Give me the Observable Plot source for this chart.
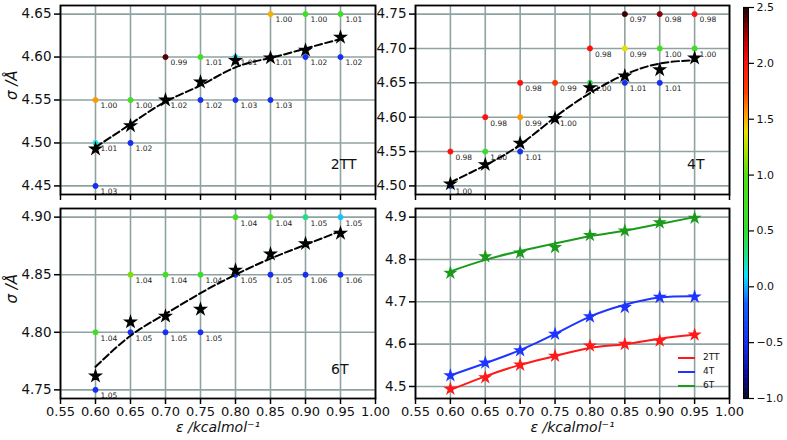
<!DOCTYPE html>
<html>
<head>
<meta charset="utf-8">
<script src="https://cdn.jsdelivr.net/npm/d3@7"></script>
<script src="https://cdn.jsdelivr.net/npm/@observablehq/plot@0.6"></script>
<style>
  html, body { margin: 0; padding: 0; background: #fff; }
  #chart { position: relative; width: 787px; height: 440px; overflow: hidden; font-family: "DejaVu Sans", sans-serif; }
  #chart svg { position: absolute; left: 0; top: 0; }
  .leg { position: absolute; font-family: "DejaVu Sans", sans-serif; font-size: 9px; color: #111; }
</style>
</head>
<body>
<div id="chart"></div>
<script>
// ---------- data ----------
const xTicks = [0.55, 0.60, 0.65, 0.70, 0.75, 0.80, 0.85, 0.90, 0.95, 1.00];
const epsVals = [0.60, 0.65, 0.70, 0.75, 0.80, 0.85, 0.90, 0.95];

// 2TT panel
const tt2PtEps = [0.60, 0.60, 0.60, 0.65, 0.65, 0.70, 0.70, 0.75, 0.75, 0.80, 0.80, 0.85, 0.85, 0.85, 0.90, 0.90, 0.95, 0.95];
const tt2PtSig = [4.45, 4.50, 4.55, 4.50, 4.55, 4.55, 4.60, 4.55, 4.60, 4.55, 4.60, 4.55, 4.60, 4.65, 4.60, 4.65, 4.60, 4.65];
const tt2PtVal = [-0.5, 0.15, 1.55, -0.5, 0.7, -0.5, 2.4, -0.5, 0.7, -0.5, 0.1, -0.5, -0.3, 1.5, -0.5, 0.7, -0.5, 0.7];
const tt2PtLbl = ["1.03", "1.01", "1.00", "1.02", "1.00", "1.02", "0.99", "1.02", "1.01", "1.03", "1.01", "1.03", "1.01", "1.00", "1.02", "1.00", "1.02", "1.01"];
const tt2Star = [4.493, 4.520, 4.550, 4.571, 4.596, 4.599, 4.608, 4.623];
const tt2Fit  = [4.495, 4.522, 4.548, 4.567, 4.588, 4.599, 4.610, 4.621];
const tt2YTicks = [4.45, 4.50, 4.55, 4.60, 4.65];

// 4T panel
const t4PtEps = [0.60, 0.60, 0.65, 0.65, 0.70, 0.70, 0.70, 0.75, 0.75, 0.80, 0.80, 0.85, 0.85, 0.85, 0.90, 0.90, 0.90, 0.95, 0.95];
const t4PtSig = [4.50, 4.55, 4.55, 4.60, 4.55, 4.60, 4.65, 4.60, 4.65, 4.65, 4.70, 4.65, 4.70, 4.75, 4.65, 4.70, 4.75, 4.70, 4.75];
const t4PtVal = [-0.4, 2.0, 0.6, 2.0, -0.5, 1.55, 2.0, 0.1, 1.8, 0.4, 2.0, -0.5, 1.4, 2.45, -0.5, 0.7, 2.3, 0.7, 2.0];
const t4PtLbl = ["1.00", "0.98", "1.00", "0.98", "1.01", "0.99", "0.98", "1.00", "0.99", "1.00", "0.98", "1.01", "0.99", "0.97", "1.01", "1.00", "0.98", "1.00", "0.98"];
const t4Star = [4.503, 4.531, 4.562, 4.598, 4.643, 4.660, 4.669, 4.686];
const t4Fit  = [4.505, 4.530, 4.560, 4.600, 4.635, 4.662, 4.678, 4.683];
const t4YTicks = [4.50, 4.55, 4.60, 4.65, 4.70, 4.75];

// 6T panel
const t6PtEps = [0.60, 0.60, 0.65, 0.65, 0.70, 0.70, 0.75, 0.75, 0.80, 0.80, 0.85, 0.85, 0.90, 0.90, 0.95, 0.95];
const t6PtSig = [4.75, 4.80, 4.80, 4.85, 4.80, 4.85, 4.80, 4.85, 4.85, 4.90, 4.85, 4.90, 4.85, 4.90, 4.85, 4.90];
const t6PtVal = [-0.5, 0.7, -0.5, 1.1, -0.5, 0.7, -0.5, 0.6, -0.4, 0.8, -0.5, 0.8, -0.5, 0.3, -0.5, 0.05];
const t6PtLbl = ["1.05", "1.04", "1.05", "1.04", "1.05", "1.04", "1.05", "1.04", "1.05", "1.04", "1.05", "1.04", "1.06", "1.05", "1.06", "1.05"];
const t6Star = [4.762, 4.809, 4.814, 4.820, 4.854, 4.868, 4.877, 4.886];
const t6Fit  = [4.770, 4.797, 4.816, 4.834, 4.850, 4.864, 4.876, 4.888];
const t6YTicks = [4.75, 4.80, 4.85, 4.90];

// comparison panel
const seriesNames  = ["2TT", "4T", "6T"];
const seriesColors = ["#ff1a1a", "#1f35ff", "#1c9a1c"];
const cmpStar = [
  [4.494, 4.521, 4.551, 4.572, 4.596, 4.600, 4.608, 4.622],
  [4.526, 4.556, 4.585, 4.624, 4.665, 4.687, 4.711, 4.712],
  [4.768, 4.807, 4.816, 4.829, 4.857, 4.868, 4.887, 4.898]
];
const cmpLine = [
  [4.492, 4.524, 4.551, 4.572, 4.591, 4.600, 4.613, 4.622],
  [4.526, 4.555, 4.586, 4.624, 4.665, 4.693, 4.710, 4.713],
  [4.772, 4.799, 4.820, 4.838, 4.855, 4.868, 4.884, 4.900]
];
const cmpYTicks = [4.5, 4.6, 4.7, 4.8, 4.9];

// colorbar
const cbTicks = [-1.0, -0.5, 0.0, 0.5, 1.0, 1.5, 2.0, 2.5];
const cmapStops  = [-1.0, -0.8, -0.5, -0.15, 0.1, 0.3, 0.5, 1.0, 1.2, 1.4, 1.55, 1.75, 2.0, 2.2, 2.5];
const cmapColors = ["#0b0b2a", "#0a0a90", "#1530f0", "#1060ff", "#10e0ff", "#20e080", "#30e030", "#50e010", "#a0e000", "#e8e000", "#ff9a00", "#ff4000", "#ff1010", "#c00000", "#1e0505"];

// ---------- layout ----------
const W = 787, H = 440;
const FONT = "DejaVu Sans";
const GRID = "#8fa2a2";
const xDomain = [0.55, 1.00];
const colorOpts = {type: "linear", domain: cmapStops, range: cmapColors, clamp: true};

function pts(eps, sig, val, lbl) {
  return eps.map((e, i) => ({eps: e, sig: sig[i], c: val[i], lbl: lbl[i]}));
}
function ser(ys) { return epsVals.map((e, i) => ({eps: e, sig: ys[i]})); }

function panel({frame, yDomain, yTicks, yFmt, xLabels, marks, useColor}) {
  const [x0, y0, x1, y1] = frame;
  const svg = Plot.plot({
    width: W, height: H,
    marginLeft: x0, marginRight: W - x1, marginTop: y0, marginBottom: H - y1,
    style: {background: "transparent", fontFamily: FONT, overflow: "visible"},
    x: {domain: xDomain},
    y: {domain: yDomain},
    ...(useColor ? {color: colorOpts} : {}),
    marks: [
      Plot.ruleX(xTicks, {x: d => d, stroke: GRID, strokeWidth: 1.6}),
      Plot.ruleY(yTicks, {y: d => d, stroke: GRID, strokeWidth: 1.6}),
      ...marks,
      Plot.axisX({ticks: xTicks, tickFormat: xLabels ? ".2f" : () => "", tickSize: 6, tickPadding: 2,
        fontSize: 13, label: null, stroke: "#000", strokeWidth: 1.5, fill: "#111"}),
      Plot.axisY({ticks: yTicks, tickFormat: yFmt, tickSize: 6, tickPadding: 3,
        fontSize: 13.5, label: null, stroke: "#000", strokeWidth: 1.5, fill: "#111"}),
      Plot.frame({stroke: "#000", strokeWidth: 1.8})
    ]
  });
  return svg;
}

function gridPanelMarks(points, star, fit, name, nameDx, nameDy) {
  return [
    Plot.dot(points, {x: "eps", y: "sig", fill: "c", stroke: "c", r: 2.6, strokeWidth: 0.8}),
    Plot.text(points, {x: "eps", y: "sig", text: "lbl", dx: 5, dy: 6, textAnchor: "start", fontSize: 7.5, fill: "#222"}),
    Plot.line(ser(fit), {x: "eps", y: "sig", curve: "natural", stroke: "#000", strokeWidth: 2, strokeDasharray: "7.4,3.2"}),
    Plot.dot(ser(star), {x: "eps", y: "sig", symbol: "star", fill: "#000", stroke: "#000", r: 3.3}),
    Plot.text([name], {text: d => d, frameAnchor: "bottom-right", dx: nameDx, dy: nameDy, textAnchor: "end", fontSize: 14, fill: "#111"})
  ];
}

const yLabel = Plot.text(["σ /Å"], {text: d => d, frameAnchor: "left", dx: -48, rotate: -90, fontSize: 15, fontStyle: "italic", fill: "#111"});
const xLabel = Plot.text(["ε /kcalmol⁻¹"], {text: d => d, frameAnchor: "bottom", dy: 33, fontSize: 14, fontStyle: "italic", fill: "#111"});

const chart = document.getElementById("chart");

chart.append(panel({
  frame: [60, 5, 375, 194], yDomain: [4.44, 4.66], yTicks: tt2YTicks, yFmt: ".2f", xLabels: false, useColor: true,
  marks: [...gridPanelMarks(pts(tt2PtEps, tt2PtSig, tt2PtVal, tt2PtLbl), tt2Star, tt2Fit, "2TT", -19, -26), yLabel]
}));

chart.append(panel({
  frame: [415, 5, 729, 194], yDomain: [4.4875, 4.7625], yTicks: t4YTicks, yFmt: ".2f", xLabels: false, useColor: true,
  marks: gridPanelMarks(pts(t4PtEps, t4PtSig, t4PtVal, t4PtLbl), t4Star, t4Fit, "4T", -25, -26)
}));

chart.append(panel({
  frame: [60, 208, 375, 398], yDomain: [4.7425, 4.9075], yTicks: t6YTicks, yFmt: ".2f", xLabels: true, useColor: true,
  marks: [...gridPanelMarks(pts(t6PtEps, t6PtSig, t6PtVal, t6PtLbl), t6Star, t6Fit, "6T", -27, -25), yLabel, xLabel]
}));

const cmpMarks = [];
seriesNames.forEach((n, k) => {
  cmpMarks.push(Plot.line(ser(cmpLine[k]), {x: "eps", y: "sig", curve: "natural", stroke: seriesColors[k], strokeWidth: 2}));
  cmpMarks.push(Plot.dot(ser(cmpStar[k]), {x: "eps", y: "sig", symbol: "star", fill: seriesColors[k], stroke: seriesColors[k], r: 3}));
});
cmpMarks.push(xLabel);
chart.append(panel({
  frame: [415, 208, 729, 398], yDomain: [4.4716, 4.9204], yTicks: cmpYTicks, yFmt: ".1f", xLabels: true, useColor: false,
  marks: cmpMarks
}));

// colorbar
const cbSteps = d3.range(-1, 2.5001, 0.005);
chart.append(Plot.plot({
  width: W, height: H,
  marginLeft: 743, marginRight: W - 748, marginTop: 7, marginBottom: H - 398,
  style: {background: "transparent", fontFamily: FONT, overflow: "visible"},
  y: {domain: [-1, 2.5]},
  color: colorOpts,
  marks: [
    Plot.ruleY(cbSteps, {y: d => d, stroke: d => d, strokeWidth: 1.2}),
    Plot.frame({stroke: "#000", strokeWidth: 1}),
    Plot.axisY({anchor: "right", ticks: cbTicks, tickFormat: ".1f", tickSize: 5, tickPadding: 3,
      fontSize: 11, label: null, stroke: "#000", strokeWidth: 1.2, fill: "#111"})
  ]
}));

// legend of comparison panel
const legTop = [358, 372, 386];
seriesNames.forEach((n, k) => {
  const line = document.createElement("div");
  line.style.cssText = `position:absolute;left:678px;top:${legTop[k] - 1}px;width:17px;height:2px;background:${seriesColors[k]};`;
  chart.append(line);
  const t = document.createElement("div");
  t.className = "leg";
  t.style.left = "703px";
  t.style.top = (legTop[k] - 6) + "px";
  t.textContent = n;
  chart.append(t);
});
</script>
</body>
</html>
